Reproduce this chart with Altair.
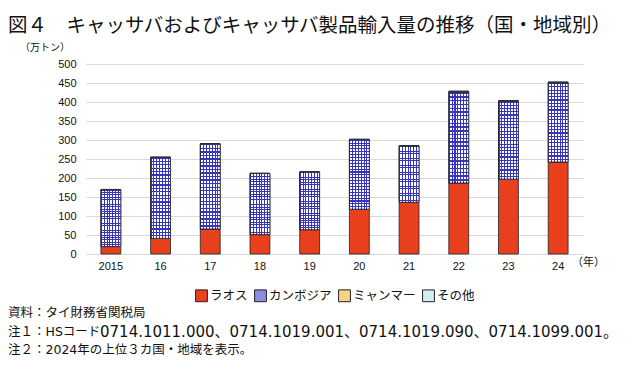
import altair as alt
import pandas as pd

years = ["2015", "16", "17", "18", "19", "20", "21", "22", "23", "24"]
series = ["ラオス", "カンボジア", "ミャンマー", "その他"]
laos = [19.5, 41, 66, 51, 64, 118, 136, 187, 197, 242]
cambodia = [149.7, 213, 223, 160.7, 151.2, 183, 147.5, 238, 204.5, 208]
myanmar = [0.5, 0.6, 0.7, 0.5, 0.5, 0.6, 1.0, 2.5, 1.5, 1.5]
other = [0.3, 0.4, 0.3, 0.3, 0.3, 0.4, 0.5, 1.5, 1.0, 1.5]
colors = ["#e8401c", "#8c8ce0", "#fbd184", "#d4eef0"]

title_text = "図４　キャッサバおよびキャッサバ製品輸入量の推移（国・地域別）"
unit_text = "（万トン）"
year_unit = "（年）"
note_source = "資料：タイ財務省関税局"
note1_head = "注１：HSコード"
note1_codes = "0714.1011.000、0714.1019.001、0714.1019.090、0714.1099.001。"
note2 = "注２：2024年の上位３カ国・地域を表示。"

rows = []
for s_i, (name, vals) in enumerate(zip(series, [laos, cambodia, myanmar, other])):
    for y, v in zip(years, vals):
        rows.append({"year": y, "series": name, "value": v, "order": s_i})
df = pd.DataFrame(rows)

W, H = 497, 190
JP = "Noto Sans CJK JP"
MIX = "DejaVu Sans, Noto Sans CJK JP"
BLUE = "#3535c0"


def stripes(n, frac, c_line, c_gap, horizontal):
    stops = []
    for k in range(n):
        a = k / n
        b = (k + frac) / n
        c = (k + 1) / n
        stops += [
            alt.GradientStop(offset=a, color=c_line),
            alt.GradientStop(offset=b, color=c_line),
            alt.GradientStop(offset=b, color=c_gap),
            alt.GradientStop(offset=c, color=c_gap),
        ]
    if horizontal:
        return alt.LinearGradient(gradient="linear", stops=stops, x1=0, y1=0, x2=0, y2=1)
    return alt.LinearGradient(gradient="linear", stops=stops, x1=0, y1=0, x2=1, y2=0)


base = alt.Chart(df).transform_stack(
    stack="value", groupby=["year"], sort=[alt.SortField("order", order="ascending")], as_=["y0", "y1"]
)

x_enc = alt.X(
    "year:N",
    sort=years,
    scale=alt.Scale(paddingInner=0.6, paddingOuter=0.3),
    axis=alt.Axis(title=None, labelAngle=0, ticks=False, domain=False, labelPadding=6,
                  labelFontSize=11, labelColor="#111", labelFont="Liberation Sans"),
)
y_enc = alt.Y(
    "y0:Q",
    scale=alt.Scale(domain=[0, 500], nice=False),
    axis=alt.Axis(title=None, values=list(range(0, 501, 50)), ticks=False, domain=False,
                  labelPadding=10, labelFontSize=11, labelColor="#111", labelFont="Liberation Sans",
                  gridColor="#d9d9d9", gridWidth=1, labelOverlap=False),
)

bars = base.mark_bar(stroke="#222", strokeWidth=0.8).encode(
    x=x_enc,
    y=y_enc,
    y2="y1:Q",
    color=alt.Color(
        "series:N",
        scale=alt.Scale(domain=series, range=colors),
        legend=alt.Legend(
            title=None, orient="none", legendX=109, legendY=225, direction="horizontal",
            symbolType="square", symbolSize=140, symbolStrokeColor="#222", symbolStrokeWidth=1,
            symbolOpacity=1, labelFont=JP, labelFontSize=12.5, labelColor="#111",
            labelOffset=2, columnPadding=4, padding=0,
        ),
    ),
)

camb = base.transform_filter(alt.datum.series == "カンボジア")
camb_v = camb.mark_bar(fill=stripes(7, 0.36, BLUE, "#ffffff", False), strokeWidth=0).encode(
    x=x_enc, y=y_enc, y2="y1:Q"
)
camb_h = camb.mark_bar(
    fill=stripes(24, 0.36, BLUE, "rgba(255,255,255,0)", True), stroke="#222", strokeWidth=0.8
).encode(x=x_enc, y=y_enc, y2="y1:Q")


def label(txt, x, y, size, font=JP, align="left", color="#111"):
    return alt.Chart(alt.Data(values=[{}])).mark_text(
        text=txt, align=align, baseline="middle", fontSize=size, font=font, color=color
    ).encode(x=alt.value(x), y=alt.value(y))


texts = [
    label(title_text, -78, -38, 19.5),
    label(unit_text, -66, -16, 10),
    label(year_unit, 486, 199, 11),
    label(note_source, -78, 249, 12.5, font=MIX),
    label(note1_head, -78, 268, 12.5, font=MIX),
    label(note1_codes, 14, 268, 15, font=MIX),
    label(note2, -78, 286, 12.5, font=MIX),
]

chart = alt.layer(bars, camb_v, camb_h, *texts).properties(
    width=W, height=H,
    autosize=alt.AutoSizeParams(type="none"),
    padding={"left": 78, "top": 56, "right": 40, "bottom": 105},
    background="white",
).configure_view(stroke=None)

chart.save("out.html", embed_options={"renderer": "svg", "actions": False})
